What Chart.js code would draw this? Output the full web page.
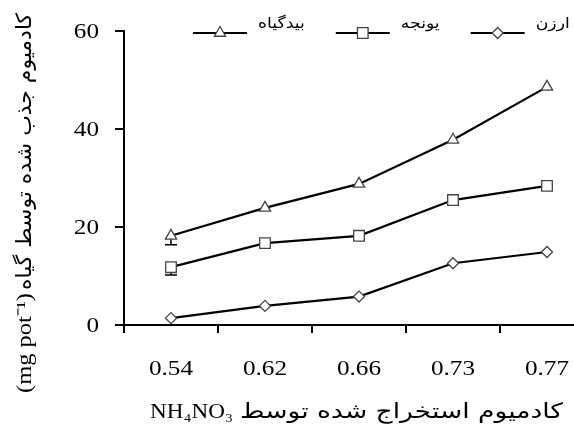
<!DOCTYPE html>
<html>
<head>
<meta charset="utf-8">
<script src="https://cdn.jsdelivr.net/npm/chart.js@4/dist/chart.umd.min.js"></script>
<style>
  html, body { margin: 0; padding: 0; background: #fff; }
  #wrap { width: 574px; height: 427px; overflow: hidden; position: relative; }
  canvas { display: block; }
</style>
</head>
<body>
<div id="wrap"><canvas id="myChart" width="600" height="427"></canvas></div>
<script>
/* data */
const categories = ['0.54', '0.62', '0.66', '0.73', '0.77'];
const yTicks = [0, 20, 40, 60];

const millet = [1.4, 3.9, 5.8, 12.6, 14.9];      // ارزن
const alfalfa = [11.8, 16.7, 18.2, 25.5, 28.4];  // یونجه
const grass = [18.2, 23.9, 28.8, 37.8, 48.6];    // بیدگیاه

// only the lower half of the error bars shows in the picture
const alfalfaErr = [1.6, 0, 0, 0, 0];
const grassErr = [1.8, 0, 0, 0, 0];

const serif = "'Liberation Serif', serif";
const sans = "'DejaVu Sans', sans-serif";
const stretch = 1.2; // the picture's text is wider than normal

function wideText(ctx, text, x, y, align, sx) {
  ctx.save();
  ctx.translate(x, y);
  ctx.scale(sx, 1);
  ctx.textAlign = align;
  ctx.fillText(text, 0, 0);
  ctx.restore();
}

function fitText(ctx, text, x, y, width) {
  const sx = width / ctx.measureText(text).width;
  wideText(ctx, text, x, y, 'left', sx);
}

/* error bars, drawn under the markers */
const errorBars = {
  id: 'errorBars',
  beforeDatasetsDraw(chart) {
    const ctx = chart.ctx;
    const y = chart.scales.y;
    ctx.save();
    ctx.strokeStyle = '#000';
    ctx.lineWidth = 1.5;
    chart.data.datasets.forEach((ds, i) => {
      if (!ds.errors) return;
      const meta = chart.getDatasetMeta(i);
      meta.data.forEach((pt, j) => {
        const e = ds.errors[j];
        if (!e) return;
        const bot = y.getPixelForValue(ds.data[j] - e);
        ctx.beginPath();
        ctx.moveTo(pt.x, pt.y); ctx.lineTo(pt.x, bot);
        ctx.moveTo(pt.x - 6, bot); ctx.lineTo(pt.x + 6, bot);
        ctx.stroke();
      });
    });
    ctx.restore();
  }
};

/* tick labels, legend and axis titles */
const extras = {
  id: 'extras',
  afterDraw(chart) {
    const ctx = chart.ctx;
    const xs = chart.scales.x;
    const ys = chart.scales.y;
    ctx.save();
    ctx.fillStyle = '#000';
    ctx.textBaseline = 'alphabetic';

    // tick labels
    ctx.font = '21px ' + serif;
    xs.ticks.forEach((t, i) => {
      wideText(ctx, categories[i], xs.getPixelForTick(i), 375, 'center', stretch);
    });
    ys.ticks.forEach(t => {
      wideText(ctx, String(t.value), 99, ys.getPixelForValue(t.value) + 7, 'right', stretch);
    });

    // legend, left to right: last dataset first
    const items = chart.data.datasets.slice().reverse();
    let x = 193;
    const ly = 33;
    ctx.font = '15px ' + sans;
    items.forEach(ds => {
      ctx.strokeStyle = '#000';
      ctx.lineWidth = 2;
      ctx.beginPath();
      ctx.moveTo(x, ly); ctx.lineTo(x + 54, ly);
      ctx.stroke();
      ctx.save();
      ctx.fillStyle = '#fff';
      ctx.strokeStyle = ds.pointBorderColor;
      ctx.lineWidth = ds.pointBorderWidth;
      Chart.helpers.drawPoint(ctx, { pointStyle: ds.pointStyle, radius: ds.pointRadius, borderWidth: ds.pointBorderWidth }, x + 27, ly);
      ctx.restore();
      wideText(ctx, ds.label, x + 65, ly - 5, 'left', 1.15);
      x += 65 + ctx.measureText(ds.label).width * 1.15 + 31;
    });

    // x title
    ctx.font = '21px ' + serif;
    fitText(ctx, 'NH\u2084NO\u2083', 150, 418, 83);
    ctx.font = '21px ' + sans;
    fitText(ctx, 'کادمیوم استخراج شده توسط', 240, 418, 323);

    // y title, reading upward
    ctx.save();
    ctx.translate(31, 393);
    ctx.rotate(-Math.PI / 2);
    ctx.font = '22px ' + serif;
    fitText(ctx, '(mg pot\u207B\u00B9)', 0, 0, 100);
    ctx.font = '21px ' + sans;
    fitText(ctx, 'کادمیوم جذب شده توسط گیاه', 103, 0, 277);
    ctx.restore();

    ctx.restore();
  }
};

function initChart() {
  const ctx = document.getElementById('myChart').getContext('2d');

  const common = {
    borderColor: '#000',
    borderWidth: 2.2,
    pointBackgroundColor: '#fff',
    pointBorderColor: '#444',
    pointBorderWidth: 1.3,
    tension: 0,
    fill: false,
  };

  // eslint-disable-next-line no-unused-vars
  const myChart = new Chart(ctx, {
    type: 'line',
    data: {
      labels: categories,
      datasets: [
        Object.assign({ label: 'ارزن', data: millet, pointStyle: 'rectRot', pointRadius: 5.5, pointHoverRadius: 5.5 }, common),
        Object.assign({ label: 'یونجه', data: alfalfa, errors: alfalfaErr, pointStyle: 'rect', pointRadius: 7.5, pointHoverRadius: 7.5 }, common),
        Object.assign({ label: 'بیدگیاه', data: grass, errors: grassErr, pointStyle: 'triangle', pointRadius: 6.5, pointHoverRadius: 6.5 }, common),
      ]
    },
    options: {
      responsive: false,
      animation: false,
      events: [],
      layout: { autoPadding: false, padding: { left: 0, right: 6, top: 31, bottom: 0 } },
      plugins: {
        legend: { display: false },
        tooltip: { enabled: false },
      },
      scales: {
        x: {
          type: 'category',
          offset: true,
          grid: { display: true, offset: true, drawOnChartArea: false, drawTicks: true, tickLength: 8, color: '#000', lineWidth: 2 },
          border: { display: true, color: '#000', width: 2 },
          ticks: { display: false },
          afterFit(scale) { scale.height = 102; },
        },
        y: {
          min: 0,
          max: 60,
          afterBuildTicks(scale) { scale.ticks = yTicks.map(v => ({ value: v })); },
          grid: { display: true, drawOnChartArea: false, drawTicks: true, tickLength: 9, color: '#000', lineWidth: 2 },
          border: { display: true, color: '#000', width: 2 },
          ticks: { display: false },
          afterFit(scale) { scale.width = 124; },
        }
      }
    },
    plugins: [errorBars, extras],
  });
}

const app = () => {
  initChart();
};

app();
</script>
</body>
</html>
